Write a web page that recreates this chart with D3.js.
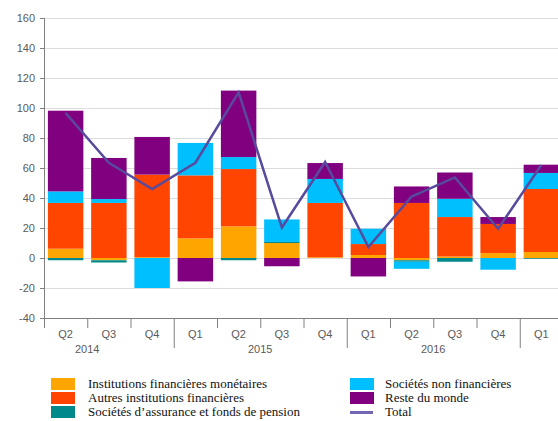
<!DOCTYPE html>
<html>
<head>
<meta charset="utf-8">
<script src="https://cdn.jsdelivr.net/npm/d3@7"></script>
<style>
  body { margin: 0; background: #fff; }
  text { font-family: 'Liberation Sans', Arial, sans-serif; }
  .legend text { font-family: 'Liberation Serif', 'Times New Roman', serif; }
</style>
</head>
<body>
<script>
// Data (en milliards)
const quarters = ['Q2', 'Q3', 'Q4', 'Q1', 'Q2', 'Q3', 'Q4', 'Q1', 'Q2', 'Q3', 'Q4', 'Q1'];
const years = ['2014', '2014', '2014', '2015', '2015', '2015', '2015', '2016', '2016', '2016', '2016', '2017'];

const ifm = [6.2, -1.5, 0.5, 13.1, 21.1, 10, 0.5, 2, -1.5, 1, 3.3, 4];
const aif = [30.5, 36.7, 55.1, 42, 38.2, 0, 36.2, 7.3, 36.7, 26.3, 19.4, 42];
const safp = [-1.5, -1.5, 0, 0, -1.5, 0.7, 0, 0, -1, -2.5, 0, -0.5];
const snf = [7.7, 2.6, -20, 21.6, 8, 15, 16, 10.2, -4.7, 12.2, -7.8, 10.7];
const rdm = [53.8, 27.4, 25.1, -15.6, 44.3, -5.5, 10.6, -12.3, 11, 17.5, 4.6, 5.5];
const total = [96.7, 63.5, 46, 63.5, 110.4, 20.3, 64, 7.3, 41, 53.7, 19.5, 62];

const yTicks = [-40, -20, 0, 20, 40, 60, 80, 100, 120, 140, 160];
const yearLabels = ['2014', '2015', '2016'];

const seriesNames = [
  'Institutions financières monétaires',
  'Autres institutions financières',
  'Sociétés d’assurance et fonds de pension',
  'Sociétés non financières',
  'Reste du monde'
];
const seriesKeys = ['ifm', 'aif', 'safp', 'snf', 'rdm'];
const colors = ['#ffa500', '#ff4500', '#00898a', '#00bfff', '#800080'];
const lineColor = '#584a9c';

// Table for d3.stack
const table = quarters.map((q, i) => ({
  id: i,
  ifm: ifm[i],
  aif: aif[i],
  safp: safp[i],
  snf: snf[i],
  rdm: rdm[i],
}));

const width = 558;
const height = 421;
const svg = d3.select('body').append('svg').attr('width', width).attr('height', height);

// Scales
const x = d3
  .scaleBand()
  .domain(d3.range(quarters.length))
  .range([44, 563])
  .paddingInner(0.18)
  .paddingOuter(0.09);
const step = x.step();
const x0 = 44;

const y = d3.scaleLinear().domain([-40, 160]).range([318, 18]);

// Gridlines
svg
  .append('g')
  .selectAll('line')
  .data(yTicks.filter((t) => t > -40))
  .enter()
  .append('line')
  .attr('x1', x0)
  .attr('x2', width)
  .attr('y1', (d) => y(d) + 0.5)
  .attr('y2', (d) => y(d) + 0.5)
  .attr('stroke', '#dcdcdc')
  .attr('stroke-width', 1);

// Stacked bars
const stack = d3.stack().keys(seriesKeys).offset(d3.stackOffsetDiverging);
const layers = stack(table);

svg
  .append('g')
  .selectAll('g')
  .data(layers)
  .enter()
  .append('g')
  .attr('fill', (d, i) => colors[i])
  .selectAll('rect')
  .data((d) => d)
  .enter()
  .append('rect')
  .attr('x', (d) => x(d.data.id))
  .attr('width', x.bandwidth())
  .attr('y', (d) => y(Math.max(d[0], d[1])))
  .attr('height', (d) => Math.abs(y(d[0]) - y(d[1])));

// Total line
const line = d3
  .line()
  .x((d, i) => x(i) + x.bandwidth() / 2)
  .y((d) => y(d));

svg
  .append('path')
  .datum(total)
  .attr('d', line)
  .attr('fill', 'none')
  .attr('stroke', lineColor)
  .attr('stroke-width', 2.5)
  .attr('stroke-linejoin', 'miter');

// Y axis
const yAxis = svg.append('g');
yAxis
  .append('line')
  .attr('x1', x0 + 0.5)
  .attr('x2', x0 + 0.5)
  .attr('y1', y(160))
  .attr('y2', y(-40) + 10)
  .attr('stroke', '#808080');

yAxis
  .selectAll('.ytick')
  .data(yTicks)
  .enter()
  .append('line')
  .attr('x1', x0 - 4)
  .attr('x2', x0)
  .attr('y1', (d) => y(d) + 0.5)
  .attr('y2', (d) => y(d) + 0.5)
  .attr('stroke', '#808080');

yAxis
  .selectAll('text')
  .data(yTicks)
  .enter()
  .append('text')
  .attr('x', 35)
  .attr('y', (d) => y(d))
  .attr('dy', '0.35em')
  .attr('text-anchor', 'end')
  .attr('font-size', '11px')
  .attr('fill', '#5a5a5a')
  .text((d) => d);

// X axis
const xAxis = svg.append('g');
xAxis
  .append('line')
  .attr('x1', x0)
  .attr('x2', width)
  .attr('y1', y(-40) + 0.5)
  .attr('y2', y(-40) + 0.5)
  .attr('stroke', '#808080');

// boundary ticks, longer at the start of each year
xAxis
  .selectAll('.xtick')
  .data(quarters)
  .enter()
  .append('line')
  .attr('x1', (d, i) => x0 + i * step + 0.5)
  .attr('x2', (d, i) => x0 + i * step + 0.5)
  .attr('y1', y(-40))
  .attr('y2', (d, i) => (d === 'Q1' ? y(-40) + 30 : y(-40) + 10))
  .attr('stroke', '#808080');

xAxis
  .selectAll('.qlabel')
  .data(quarters)
  .enter()
  .append('text')
  .attr('x', (d, i) => x(i) + x.bandwidth() / 2)
  .attr('y', y(-40) + 20)
  .attr('text-anchor', 'middle')
  .attr('font-size', '11px')
  .attr('fill', '#5a5a5a')
  .text((d) => d);

// year labels centred on the four quarters of each year
xAxis
  .selectAll('.ylabel')
  .data(yearLabels)
  .enter()
  .append('text')
  .attr('x', (yr) => {
    const first = years.indexOf(yr);
    const qnum = +quarters[first].slice(1);
    return x0 + (first - (qnum - 1) + 2) * step;
  })
  .attr('y', y(-40) + 35)
  .attr('text-anchor', 'middle')
  .attr('font-size', '11px')
  .attr('fill', '#5a5a5a')
  .text((d) => d);

// Legend
const legend = svg.append('g').attr('class', 'legend');
const legendItems = seriesNames.concat(['Total']);
legendItems.forEach((name, i) => {
  const col = i < 3 ? 0 : 1;
  const row = i % 3;
  const lx = col === 0 ? 51 : 350;
  const ly = 378 + row * 14;
  if (name === 'Total') {
    legend
      .append('rect')
      .attr('x', lx)
      .attr('y', ly + 5)
      .attr('width', 23)
      .attr('height', 3)
      .attr('fill', '#7566b4');
  } else {
    legend
      .append('rect')
      .attr('x', lx)
      .attr('y', ly)
      .attr('width', 24)
      .attr('height', 12)
      .attr('fill', colors[i]);
  }
  legend
    .append('text')
    .attr('x', col === 0 ? 88 : 385)
    .attr('y', ly + 10)
    .attr('font-size', '13px')
    .attr('fill', '#111')
    .text(name);
});
</script>
</body>
</html>
